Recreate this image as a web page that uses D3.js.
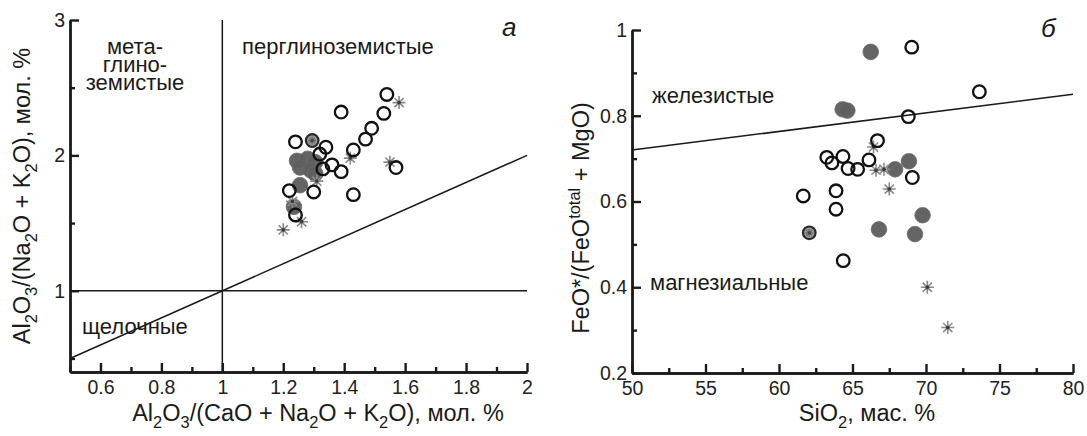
<!DOCTYPE html>
<html>
<head>
<meta charset="utf-8">
<script src="https://cdn.jsdelivr.net/npm/d3@7"></script>
<style>
  html, body { margin: 0; padding: 0; background: #fff; }
  svg { display: block; font-family: "Liberation Sans", Arial, sans-serif; }
</style>
</head>
<body>
<svg id="chart" width="1087" height="436"></svg>
<script>
// ---- Panel а: Al2O3/(CaO+Na2O+K2O) vs Al2O3/(Na2O+K2O) ----
const aOpenX  = [1.54, 1.39, 1.53, 1.49, 1.47, 1.43, 1.24, 1.34, 1.32, 1.36, 1.39, 1.57, 1.33, 1.22, 1.30, 1.43, 1.24];
const aOpenY  = [2.45, 2.32, 2.31, 2.20, 2.12, 2.04, 2.10, 2.06, 2.01, 1.93, 1.88, 1.91, 1.90, 1.74, 1.73, 1.71, 1.56];
const aFillX  = [1.245, 1.28, 1.305, 1.255, 1.29, 1.305, 1.255, 1.235];
const aFillY  = [1.96, 1.975, 1.95, 1.91, 1.89, 1.865, 1.78, 1.62];
const aStarX  = [1.58, 1.42, 1.55, 1.31, 1.23, 1.26, 1.20];
const aStarY  = [2.39, 1.98, 1.95, 1.81, 1.66, 1.51, 1.45];
const aMixX   = [1.295];
const aMixY   = [2.11];
const aXTicks = [0.6, 0.8, 1, 1.2, 1.4, 1.6, 1.8, 2];
const aXMinor = [0.5, 0.7, 0.9, 1.1, 1.3, 1.5, 1.7, 1.9];
const aYTicks = [1, 2, 3];
const aYMinor = [0.5, 1.5, 2.5];

// ---- Panel б: SiO2 vs FeO*/(FeO*+MgO) ----
const bOpenX  = [69.03, 73.63, 68.8, 66.7, 63.25, 63.6, 64.35, 64.7, 65.35, 66.12, 69.07, 61.65, 63.88, 63.88, 64.37];
const bOpenY  = [0.96, 0.856, 0.798, 0.742, 0.703, 0.69, 0.705, 0.677, 0.675, 0.697, 0.656, 0.613, 0.625, 0.582, 0.462];
const bFillX  = [66.24, 64.33, 64.65, 67.9, 68.84, 69.77, 66.8, 69.25];
const bFillY  = [0.949, 0.815, 0.812, 0.675, 0.694, 0.568, 0.535, 0.524];
const bStarX  = [66.43, 66.6, 67.14, 67.5, 70.09, 71.48];
const bStarY  = [0.727, 0.673, 0.675, 0.629, 0.40, 0.306];
const bMixX   = [62.06];
const bMixY   = [0.527];
const bXTicks = [50, 55, 60, 65, 70, 75, 80];
const bXMinor = [52.5, 57.5, 62.5, 67.5, 72.5, 77.5];
const bYTicks = [0.2, 0.4, 0.6, 0.8, 1];
const bYMinor = [0.3, 0.5, 0.7, 0.9];
// boundary between ferroan and magnesian fields
const bLineX  = [50, 80];
const bLineY  = [0.72, 0.85];

const svg = d3.select("#chart");
const INK = "#1a1a1a";
const TICK_FONT = 19.5;
const NOTE_FONT = 22;
const TITLE_FONT = 23.5;

const zip = (xs, ys) => xs.map((x, i) => [x, ys[i]]);

function drawAxes(g, x, y, xt, xm, yt, ym, fmtX, fmtY) {
  const [x0] = x.range();
  const [y0] = y.range();
  const xa = g.append("g").attr("transform", `translate(0,${y0})`)
    .call(d3.axisBottom(x).tickValues(xt).tickSizeInner(-9).tickSizeOuter(0).tickPadding(8).tickFormat(fmtX));
  const xm_ = g.append("g").attr("transform", `translate(0,${y0})`)
    .call(d3.axisBottom(x).tickValues(xm).tickSizeInner(-5).tickSizeOuter(0).tickFormat(""));
  const ya = g.append("g").attr("transform", `translate(${x0},0)`)
    .call(d3.axisLeft(y).tickValues(yt).tickSizeInner(-9).tickSizeOuter(0).tickPadding(5).tickFormat(fmtY));
  const ym_ = g.append("g").attr("transform", `translate(${x0},0)`)
    .call(d3.axisLeft(y).tickValues(ym).tickSizeInner(-5).tickSizeOuter(0).tickFormat(""));
  [xa, xm_, ya, ym_].forEach(s => {
    s.selectAll("path.domain").attr("stroke", INK).attr("stroke-width", 2.4);
    s.selectAll("line").attr("stroke", INK).attr("stroke-width", 2.4);
    s.selectAll("text").attr("fill", "#222").attr("font-size", TICK_FONT)
      .attr("font-family", "Liberation Sans, Arial, sans-serif");
  });
}

function starPath(r) {
  const p = [];
  for (let i = 0; i < 8; i++) {
    const a = i * Math.PI / 4;
    p.push(`M0,0L${(r * Math.cos(a)).toFixed(2)},${(r * Math.sin(a)).toFixed(2)}`);
  }
  return p.join("");
}

function drawMarks(g, x, y, open, fill, star, mix) {
  // grey filled circles
  g.append("g").selectAll("circle").data(fill).join("circle")
    .attr("cx", d => x(d[0])).attr("cy", d => y(d[1])).attr("r", 7.8)
    .attr("fill", "#5f5f5f").attr("stroke", "#6a6a6a").attr("stroke-width", 0.8)
    .attr("opacity", 0.97);
  // asterisks
  const st = g.append("g").selectAll("g").data(star).join("g")
    .attr("transform", d => `translate(${x(d[0])},${y(d[1])})`);
  st.append("path").attr("d", starPath(6.5)).attr("stroke", "#8a8a8a").attr("stroke-width", 1.6);
  st.append("circle").attr("r", 1.8).attr("fill", "#3a3a3a");
  // open circles
  g.append("g").selectAll("circle").data(open).join("circle")
    .attr("cx", d => x(d[0])).attr("cy", d => y(d[1])).attr("r", 6.3)
    .attr("fill", "none").attr("stroke", "#111").attr("stroke-width", 2.3);
  // circle with asterisk inside
  const mx = g.append("g").selectAll("g").data(mix).join("g")
    .attr("transform", d => `translate(${x(d[0])},${y(d[1])})`);
  mx.append("circle").attr("r", 6.3).attr("fill", "#9a9a9a").attr("stroke", "#2a2a2a").attr("stroke-width", 2.2);
  mx.append("path").attr("d", starPath(4)).attr("stroke", "#6a6a6a").attr("stroke-width", 1.3);
  mx.append("circle").attr("r", 1.6).attr("fill", "#444");
}

function label(g, xp, yp, lines, opts = {}) {
  const t = g.append("text").attr("x", xp).attr("y", yp)
    .attr("font-size", opts.size || NOTE_FONT).attr("fill", "#1a1a1a")
    .attr("text-anchor", opts.anchor || "start")
    .attr("font-style", opts.italic ? "italic" : "normal");
  lines.forEach((ln, i) => {
    t.append("tspan").attr("x", xp).attr("dy", i === 0 ? 0 : (opts.lh || 19)).text(ln);
  });
  return t;
}

// rich text: parts = [[text, "n"|"sub"|"sup"], ...]
function rich(g, xp, yp, parts, opts = {}) {
  const fs = opts.size || TITLE_FONT;
  const t = g.append("text").attr("x", xp).attr("y", yp)
    .attr("font-size", fs).attr("fill", "#1a1a1a")
    .attr("text-anchor", "middle");
  if (opts.rotate) t.attr("transform", `rotate(-90,${xp},${yp})`);
  const sh = fs * 0.3, sp = fs * 0.38;
  let prev = "n";
  parts.forEach(([txt, kind]) => {
    const ts = t.append("tspan").text(txt);
    let dy = 0;
    if (kind === "sub") { dy = sh; ts.attr("font-size", fs * 0.7); }
    if (kind === "sup") { dy = -sp; ts.attr("font-size", fs * 0.7); }
    if (kind === "n") { dy = prev === "sub" ? -sh : prev === "sup" ? sp : 0; }
    if (dy) ts.attr("dy", dy);
    prev = kind;
  });
  return t;
}

// ---------------- Panel а ----------------
{
  const x = d3.scaleLinear().domain([0.5, 2]).range([70, 527]);
  const y = d3.scaleLinear().domain([0.4, 3]).range([372, 20]);
  const g = svg.append("g");

  // field boundaries
  g.append("line").attr("x1", x(1)).attr("x2", x(1)).attr("y1", y(3)).attr("y2", y(0.4))
    .attr("stroke", INK).attr("stroke-width", 1.5);
  g.append("line").attr("x1", x(0.5)).attr("x2", x(2)).attr("y1", y(1)).attr("y2", y(1))
    .attr("stroke", INK).attr("stroke-width", 1.5);
  g.append("line").attr("x1", x(0.5)).attr("y1", y(0.5)).attr("x2", x(2)).attr("y2", y(2))
    .attr("stroke", INK).attr("stroke-width", 1.5);

  drawAxes(g, x, y, aXTicks, aXMinor, aYTicks, aYMinor, d3.format(""), d3.format(""));

  label(g, 135, 54, ["мета-", "глино-", "земистые"], { anchor: "middle", lh: 18 });
  label(g, 242, 54, ["перглиноземистые"]);
  label(g, 82, 334, ["щелочные"]);
  label(g, 502, 36, ["а"], { size: 26, italic: true });

  drawMarks(g, x, y, zip(aOpenX, aOpenY), zip(aFillX, aFillY), zip(aStarX, aStarY), zip(aMixX, aMixY));

  rich(g, 318, 421, [["Al", "n"], ["2", "sub"], ["O", "n"], ["3", "sub"], ["/(CaO + Na", "n"], ["2", "sub"],
    ["O + K", "n"], ["2", "sub"], ["O), мол. %", "n"]]);
  rich(g, 30, 196, [["Al", "n"], ["2", "sub"], ["O", "n"], ["3", "sub"], ["/(Na", "n"], ["2", "sub"],
    ["O + K", "n"], ["2", "sub"], ["O), мол. %", "n"]], { rotate: true });
}

// ---------------- Panel б ----------------
{
  const x = d3.scaleLinear().domain([50, 80]).range([632, 1073]);
  const y = d3.scaleLinear().domain([0.2, 1]).range([373, 30]);
  const g = svg.append("g");

  g.append("line").attr("x1", x(bLineX[0])).attr("y1", y(bLineY[0]))
    .attr("x2", x(bLineX[1])).attr("y2", y(bLineY[1]))
    .attr("stroke", INK).attr("stroke-width", 1.5);

  drawAxes(g, x, y, bXTicks, bXMinor, bYTicks, bYMinor, d3.format(""), d => d === 1 ? "1" : d3.format(".1f")(d));

  label(g, 652, 103, ["железистые"]);
  label(g, 650, 290, ["магнезиальные"]);
  label(g, 1041, 37, ["б"], { size: 26, italic: true });

  drawMarks(g, x, y, zip(bOpenX, bOpenY), zip(bFillX, bFillY), zip(bStarX, bStarY), zip(bMixX, bMixY));

  rich(g, 867, 421, [["SiO", "n"], ["2", "sub"], [", мас. %", "n"]]);
  rich(g, 589, 218, [["FeO*/(FeO", "n"], ["total", "sup"], [" + MgO)", "n"]], { rotate: true });
}
</script>
</body>
</html>
